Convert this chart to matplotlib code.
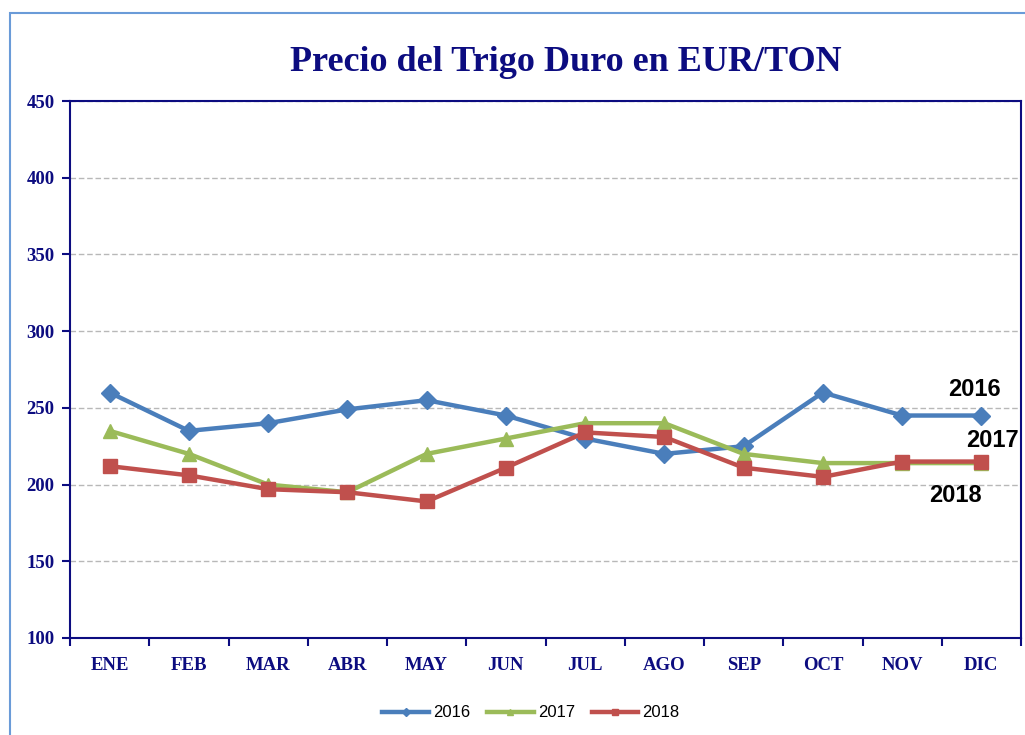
import matplotlib
matplotlib.use("Agg")
import matplotlib.pyplot as plt
from matplotlib.patches import Rectangle
import numpy as np

months = ["ENE", "FEB", "MAR", "ABR", "MAY", "JUN", "JUL", "AGO", "SEP", "OCT", "NOV", "DIC"]
precio_2016 = [260, 235, 240, 249, 255, 245, 230, 220, 225, 260, 245, 245]
precio_2017 = [235, 220, 200, 195, 220, 230, 240, 240, 220, 214, 214, 214]
precio_2018 = [212, 206, 197, 195, 189, 211, 234, 231, 211, 205, 215, 215]
y_ticks = [100, 150, 200, 250, 300, 350, 400, 450]

navy = "#0c0c80"
serif = ["Liberation Serif", "DejaVu Serif"]
sans = ["Liberation Sans", "DejaVu Sans"]

fig = plt.figure(figsize=(10.25, 7.35), dpi=100)
ax = fig.add_axes([70 / 1025, 97 / 735, 951 / 1025, 537 / 735])

# outer chart frame
fig.patches.append(Rectangle((10 / 1025, -0.1), 1.2, 0.1 + 722 / 735, transform=fig.transFigure,
                             fill=False, edgecolor="#6a9bd8", linewidth=1.5))

x = np.arange(len(months))
series = [
    ("2016", precio_2016, "#4a7ebb", "D", 9),
    ("2017", precio_2017, "#9bbb59", "^", 10),
    ("2018", precio_2018, "#c0504d", "s", 10),
]
for label, vals, color, marker, ms in series:
    ax.plot(x, vals, color=color, linewidth=3.2, marker=marker, markersize=ms,
            label=label, zorder=3)

ax.set_xlim(-0.5, len(months) - 0.5)
ax.set_ylim(100, 450)
ax.set_yticks(y_ticks)
ax.set_xticks(x)
ax.set_xticklabels(months)
ax.set_xticks(np.arange(len(months) + 1) - 0.5, minor=True)
ax.tick_params(axis="x", which="major", length=0, pad=14)
ax.tick_params(axis="x", which="minor", length=6, width=1.5, color=navy, direction="out")
ax.tick_params(axis="y", length=6, width=1.5, color=navy, direction="out", pad=5)
for lab in ax.get_xticklabels() + ax.get_yticklabels():
    lab.set_fontfamily(serif)
    lab.set_fontweight("bold")
    lab.set_fontsize(13.5)
    lab.set_color(navy)

ax.grid(axis="y", color="#b8b8b8", linestyle=(0, (4, 2)), linewidth=1)
ax.set_axisbelow(True)
for sp in ax.spines.values():
    sp.set_color(navy)
    sp.set_linewidth(1.5)

fig.text(0.552, 0.915, "Precio del Trigo Duro en EUR/TON", ha="center", va="center",
         fontsize=26, fontweight="bold", color=navy, family=serif)

ax.annotate("2016", (11, 245), xytext=(-5, 19), textcoords="offset points",
            fontsize=17, fontweight="bold", family=sans, ha="center", va="center")
ax.annotate("2017", (11, 214), xytext=(8, 16), textcoords="offset points",
            fontsize=17, fontweight="bold", family=sans, ha="center", va="center")
ax.annotate("2018", (11, 214), xytext=(-19, -23), textcoords="offset points",
            fontsize=17, fontweight="bold", family=sans, ha="center", va="center")

leg = fig.legend(loc="center", bbox_to_anchor=(0.518, 0.03), ncol=3, frameon=False,
                 prop={"family": sans, "size": 12}, markerscale=0.45,
                 handlelength=2.8, columnspacing=1.0, handletextpad=0.25)

fig.savefig("out.png", dpi=100)
